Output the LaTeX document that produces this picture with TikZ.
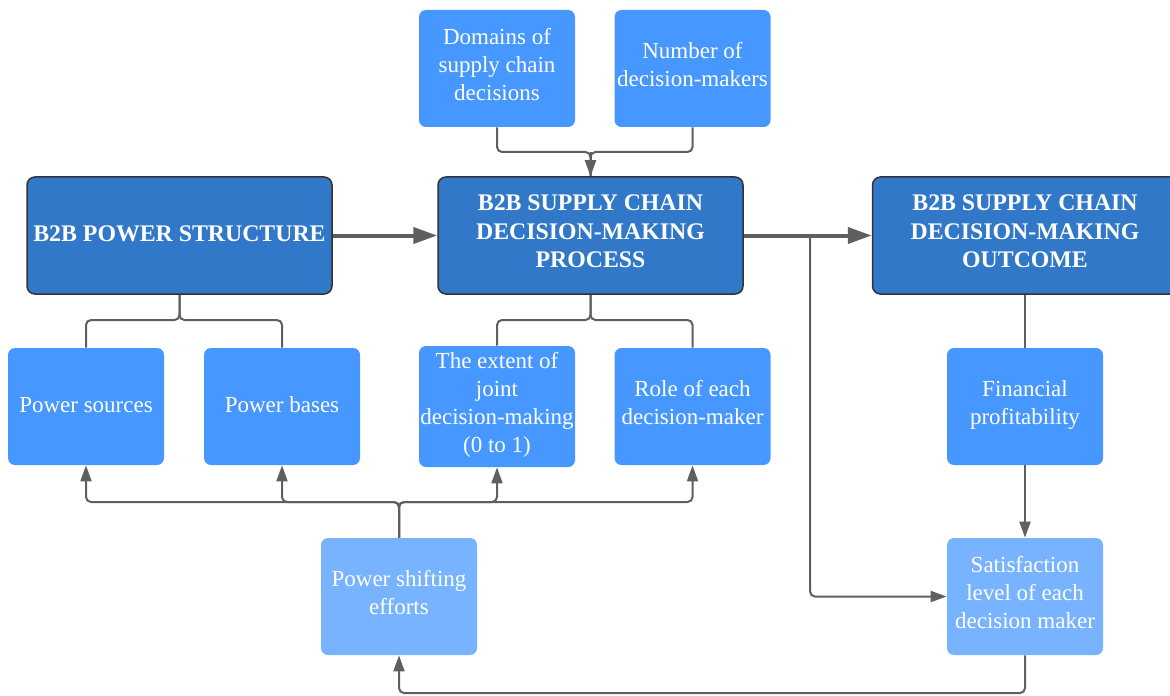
\documentclass[tikz,border=0pt]{standalone}
\usepackage{fontspec}
\setmainfont{Liberation Serif}
\usetikzlibrary{arrows.meta}
\definecolor{darkbox}{HTML}{3178C8}
\definecolor{midbox}{HTML}{4697FF}
\definecolor{lightbox}{HTML}{78B3FF}
\definecolor{linegray}{HTML}{5F5F5F}
\definecolor{edgegray}{HTML}{333333}
\newcommand\boxstrut{\rule[-4.15pt]{0pt}{14pt}}
\begin{document}
\begin{tikzpicture}[x=0.5pt,y=-0.5pt,
  headbox/.style={draw=edgegray,line width=0.75pt,fill=darkbox,rounded corners=4pt,
    minimum width=152.5pt,minimum height=58.5pt,text=white,align=center,inner sep=1pt,
    font=\fontsize{11.9}{14.2}\selectfont\bfseries,
    execute at begin node=\boxstrut,execute at end node=\boxstrut},
  smallbox/.style={fill=midbox,rounded corners=3.5pt,minimum width=78pt,minimum height=58.5pt,
    text=white,align=center,inner sep=0.5pt,font=\fontsize{11.5}{14}\selectfont,
    execute at begin node=\boxstrut,execute at end node=\boxstrut},
  lightsmall/.style={smallbox,fill=lightbox},
  conn/.style={draw=linegray,line width=1pt,rounded corners=2.5pt},
  carrow/.style={conn,-{Triangle[length=8pt,width=5.5pt]}},
  thickarrow/.style={draw=linegray,line width=2pt,-{Triangle[length=12pt,width=8pt]}}]
\useasboundingbox (0,0) rectangle (1170,695);
% main boxes
\node[headbox] (ps) at (179.5,235.5) {B2B POWER STRUCTURE};
\node[headbox] (proc) at (590.5,235.5) {B2B SUPPLY CHAIN\\DECISION-MAKING\\PROCESS};
\node[headbox] (out) at (1025,235.5) {B2B SUPPLY CHAIN\\DECISION-MAKING\\OUTCOME};
% small boxes
\node[smallbox] (dom) at (497,68.5) {Domains of\\supply chain\\decisions};
\node[smallbox] (num) at (692.5,68.5) {Number of\\decision-makers};
\node[smallbox] (src) at (86,406.5) {Power sources};
\node[smallbox] (bas) at (282,406.5) {Power bases};
\node[smallbox,minimum height=60.5pt] (ext) at (497,406.5) {The extent of\\joint\\decision-making\\(0 to 1)};
\node[smallbox] (role) at (692.5,406.5) {Role of each\\decision-maker};
\node[smallbox] (fin) at (1025,406.5) {Financial\\profitability};
\node[lightsmall] (shift) at (399,596.5) {Power shifting\\efforts};
\node[lightsmall] (sat) at (1025,596.5) {Satisfaction\\level of each\\decision maker};
% junction coordinates
\coordinate (jtop) at (590.5,152);
\coordinate (jps) at (179.5,320);
\coordinate (jproc) at (590.5,320);
\coordinate (jfan) at (399,502);
\coordinate (jbr) at (810,235.5);
\coordinate (jfb) at (1025,693);
% thick arrows
\draw[thickarrow] (ps.east) -- (proc.west);
\draw[thickarrow] (proc.east) -- (out.west);
% top inputs
\draw[carrow] (jtop) -- (proc.north);
\draw[conn] (dom.south) |- (jtop) -- (proc.north);
\draw[conn] (num.south) |- (jtop) -- (proc.north);
% downward branches
\draw[conn] (ps.south) -- (jps) -| (src.north);
\draw[conn] (ps.south) -- (jps) -| (bas.north);
\draw[conn] (proc.south) -- (jproc) -| (ext.north);
\draw[conn] (proc.south) -- (jproc) -| (role.north);
\draw[conn] (out.south) -- (fin.north);
\draw[carrow] (fin.south) -- (sat.north);
% branch to satisfaction
\draw[carrow] (jbr) |- (sat.west);
% feedback
\draw[carrow] (sat.south) -- (jfb) -| (shift.south);
% power shifting fan-out
\draw[carrow] (shift.north) -- (jfan) -| (src.south);
\draw[carrow] (shift.north) -- (jfan) -| (bas.south);
\draw[carrow] (shift.north) -- (jfan) -| (ext.south);
\draw[carrow] (shift.north) -- (jfan) -| (role.south);
\end{tikzpicture}
\end{document}
